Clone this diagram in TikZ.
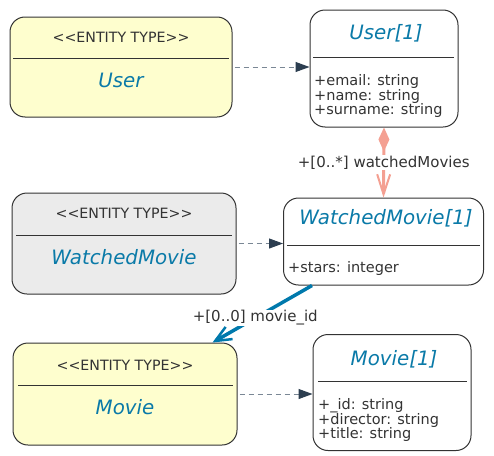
\documentclass[tikz,border=0pt]{standalone}
\usepackage{fontspec}
\setmainfont{DejaVu Sans}
\usetikzlibrary{arrows.meta}

\definecolor{entyellow}{HTML}{FEFECE}
\definecolor{entgray}{HTML}{EBEBEB}
\definecolor{titleblue}{HTML}{0A7AA8}
\definecolor{linkblue}{HTML}{0079AC}
\definecolor{linksalmon}{HTML}{F4A092}
\definecolor{dashgray}{HTML}{7A8795}
\definecolor{tipnavy}{HTML}{2C3E50}
\definecolor{inkgray}{HTML}{333333}

\tikzset{
  box/.style={draw=inkgray, line width=1pt, rounded corners=15pt, inner sep=0pt},
  divider/.style={inkgray, line width=1pt},
  stereo/.style={text=inkgray, font=\fontsize{14.2}{14.2}\selectfont, inner sep=0pt},
  ename/.style={text=titleblue, font=\fontsize{19.8}{19.8}\selectfont\itshape, inner sep=0pt},
  attr/.style={text=inkgray, font=\fontsize{14.5}{14.8}\selectfont, align=left, anchor=north west, inner sep=0pt},
  realize/.style={dashgray, dash pattern=on 5pt off 4pt, line width=1pt, shorten <=2pt,
    -{Triangle[length=14pt,width=10pt,color=tipnavy,fill=tipnavy]}},
  lbl/.style={fill=white, text=inkgray, font=\fontsize{15}{15}\selectfont, inner sep=1pt}
}

\begin{document}
\begin{tikzpicture}[x=1pt,y=-1pt]
\useasboundingbox (0,0) rectangle (494,455);

% entity types
\node (user) [box, fill=entyellow, minimum width=222pt, minimum height=100pt] at (121,67) {};
\node (wment) [box, fill=entgray, minimum width=224pt, minimum height=101pt] at (124,243.5) {};
\node (movieent) [box, fill=entyellow, minimum width=224pt, minimum height=102pt] at (125,394) {};

% classes
\node (userc) [box, fill=white, minimum width=148pt, minimum height=117pt] at (384,68.5) {};
\node (wmc) [box, fill=white, minimum width=200pt, minimum height=87pt] at (383.5,241.5) {};
\node (moviec) [box, fill=white, minimum width=158pt, minimum height=116pt] at (392,392.5) {};

\foreach \xa/\xb/\yy in {13/229/58, 16/232/235, 18/233/385, 313/454/57.5, 287/480/245.5, 318/467/381.5}
  \draw[divider] (\xa,\yy) -- (\xb,\yy);

% texts
\node (userst) [stereo] at (121,37.5) {{<}{<}ENTITY TYPE{>}{>}};
\node (username) [ename] at (121,80) {User};
\node (wmst) [stereo] at (124,213.5) {{<}{<}ENTITY TYPE{>}{>}};
\node (wmname) [ename] at (124,257.5) {WatchedMovie};
\node (moviest) [stereo] at (125,365) {{<}{<}ENTITY TYPE{>}{>}};
\node (moviename) [ename] at (125,407.5) {Movie};

\node (usertitle) [ename] at (386,33) {User[1]};
\node (wmtitle) [ename] at (386,218.5) {WatchedMovie[1]};
\node (movietitle) [ename] at (394,359) {Movie[1]};

\node (userattr) [attr] at (314,74) {+email: string\\+name: string\\+surname: string};
\node (wmattr) [attr] at (288,261) {+stars: integer};
\node (movieattr) [attr] at (318,398) {+\_id: string\\+director: string\\+title: string};

% links
\draw[realize] (user.east) -- (user.east -| userc.west);
\draw[realize] (wment.east) -- (wment.east -| wmc.west);
\draw[realize] (movieent.east) -- (movieent.east -| moviec.west);

\draw[linksalmon, line width=3pt, {Diamond[length=24pt,width=11pt]}-{Straight Barb[length=20pt,width=13pt,line width=2pt]}]
  (userc.south) -- (wmc.north) node[lbl, midway] {+[0..*] watchedMovies};
\draw[linkblue, line width=3.5pt, -{Straight Barb[length=16pt,width=14pt,line width=2.5pt]}]
  ([xshift=29pt]wmc.south west) -- ([xshift=-25pt]movieent.north east) node[lbl, midway, xshift=-7pt, yshift=-4pt] {+[0..0] movie\_id};
\end{tikzpicture}
\end{document}
